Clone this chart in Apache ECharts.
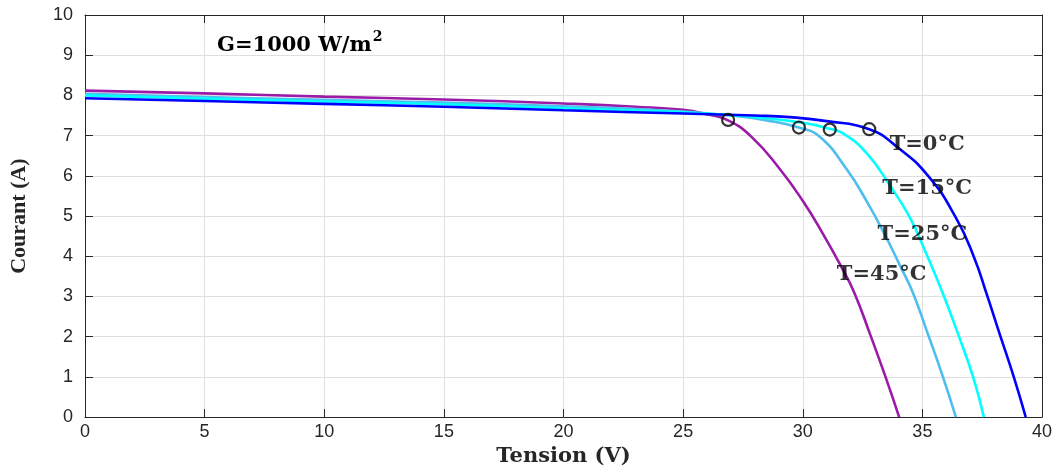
<!DOCTYPE html>
<html>
<head>
<meta charset="utf-8">
<script src="https://cdn.jsdelivr.net/npm/echarts@6/dist/echarts.min.js"></script>
<style>
html,body{margin:0;padding:0;background:#fff;}
#chart{width:1062px;height:472px;}
</style>
</head>
<body>
<div id="chart"></div>
<script>
// ---- data ----
var xTicks = [0, 5, 10, 15, 20, 25, 30, 35, 40];
var yTicks = [0, 1, 2, 3, 4, 5, 6, 7, 8, 9, 10];

var curveNames = ['T=0°C', 'T=15°C', 'T=25°C', 'T=45°C'];
var curveColors = ['#0000ff', '#00ffff', '#4dbeee', '#9b1ba8'];

var v0  = [0, 5, 10, 15, 20, 25, 28, 29.46, 31, 32.78, 33.92, 35.24, 36.4, 37.15, 37.71, 38.24, 38.82, 39.32];
var i0  = [7.93, 7.86, 7.79, 7.72, 7.63, 7.55, 7.5, 7.46, 7.36, 7.16, 6.73, 6.0, 4.96, 3.99, 3.02, 2.05, 1.0, 0];

var v15 = [0, 5, 10, 15, 20, 25, 28, 30, 31.13, 31.7, 32.66, 33.64, 34.48, 35.1, 35.84, 36.5, 37.12, 37.57];
var i15 = [8.0, 7.92, 7.85, 7.78, 7.68, 7.58, 7.46, 7.32, 7.17, 7.05, 6.57, 5.76, 4.96, 4.15, 3.10, 2.05, 1.0, 0];

var v25 = [0, 5, 10, 15, 20, 25, 27, 28.5, 29.84, 30.71, 31.83, 32.68, 33.42, 34.08, 34.6, 35.24, 35.86, 36.4];
var i25 = [8.04, 7.96, 7.89, 7.82, 7.73, 7.6, 7.5, 7.38, 7.2, 6.97, 6.17, 5.36, 4.55, 3.75, 3.10, 2.05, 1.0, 0];

var v45 = [0, 5, 10, 15, 20, 23, 25, 26, 26.88, 27.86, 29.04, 30.02, 30.85, 31.6, 32.15, 32.82, 33.46, 34.03];
var i45 = [8.12, 8.05, 7.97, 7.9, 7.8, 7.72, 7.64, 7.53, 7.38, 6.97, 6.17, 5.36, 4.55, 3.75, 3.10, 2.05, 1.0, 0];

// maximum power points (circles)
var mppV = [32.78, 31.13, 29.84, 26.88];
var mppI = [7.16, 7.15, 7.20, 7.39];

// curve labels anchor (data coordinates)
var labelV = [35.2, 35.2, 35.0, 33.3];
var labelI = [6.78, 5.69, 4.53, 3.54];

var xName = 'Tension (V)';
var yName = 'Courant (A)';
var irradiance = 'G=1000 W/m';
var irradianceSup = '2';

// ---- build ----
function zip(a, b) { return a.map(function (x, k) { return [x, b[k]]; }); }
var curves = [zip(v0, i0), zip(v15, i15), zip(v25, i25), zip(v45, i45)];

var tickFont = { fontFamily: 'Liberation Sans', fontSize: 18, color: '#262626' };
var axisLineStyle = { color: '#262626', width: 1 };

var series = [];
// draw order: hottest first so the blue is on top
[3, 2, 1, 0].forEach(function (k) {
  series.push({
    type: 'line',
    name: curveNames[k],
    data: curves[k],
    showSymbol: false,
    smooth: 0.5,
    lineStyle: { color: curveColors[k], width: 2.6 },
    z: 3,
    animation: false
  });
});
series.push({
  type: 'scatter',
  data: zip(mppV, mppI),
  symbol: 'circle',
  symbolSize: 12,
  itemStyle: { color: 'rgba(0,0,0,0)', borderColor: '#000', borderWidth: 2.2 },
  z: 5,
  animation: false
});
series.push({
  type: 'scatter',
  data: labelV.map(function (x, k) { return [x, labelI[k], curveNames[k]]; }),
  symbolSize: 0,
  label: {
    show: true,
    position: 'inside',
    formatter: function (p) { return '{t|' + p.data[2] + '}'; },
    rich: {
      t: { fontFamily: 'DejaVu Serif', fontWeight: 'bold', fontSize: 21, color: '#000', textBorderWidth: 0 }
    }
  },
  z: 6,
  animation: false,
  silent: true
});

var option = {
  backgroundColor: '#fff',
  animation: false,
  title: {
    text: '{a|' + irradiance + '}{b|' + irradianceSup + '}',
    left: 212,
    top: 25,
    textStyle: {
      rich: {
        a: { fontFamily: 'DejaVu Serif', fontWeight: 'bold', fontSize: 21, color: '#000', verticalAlign: 'bottom', lineHeight: 26 },
        b: { fontFamily: 'DejaVu Serif', fontWeight: 'bold', fontSize: 14, color: '#000', verticalAlign: 'top', lineHeight: 26, padding: [0, 0, 0, 1] }
      }
    }
  },
  grid: { left: 85, right: 20, top: 15, bottom: 44, containLabel: false },
  xAxis: [{
    type: 'value', min: 0, max: 40, interval: 5,
    name: xName, nameLocation: 'middle', nameGap: 27,
    nameTextStyle: { fontFamily: 'DejaVu Serif', fontWeight: 'bold', fontSize: 21, color: '#262626' },
    axisLine: { show: true, onZero: false, lineStyle: axisLineStyle },
    axisTick: { show: true, inside: true, length: 8, lineStyle: axisLineStyle },
    axisLabel: Object.assign({ margin: 6, formatter: function (v) { return xTicks.indexOf(v) >= 0 ? String(v) : ''; } }, tickFont),
    splitLine: { show: true, lineStyle: { color: '#dfdfdf', width: 1 } }
  }, {
    type: 'value', min: 0, max: 40, interval: 5, position: 'top',
    axisLine: { show: true, onZero: false, lineStyle: axisLineStyle },
    axisTick: { show: true, inside: true, length: 8, lineStyle: axisLineStyle },
    axisLabel: { show: false },
    splitLine: { show: false }
  }],
  yAxis: [{
    type: 'value', min: 0, max: 10, interval: 1,
    name: yName, nameLocation: 'middle', nameGap: 55, nameRotate: 90,
    nameTextStyle: { fontFamily: 'Liberation Serif', fontWeight: 'bold', fontSize: 22, color: '#262626' },
    axisLine: { show: true, onZero: false, lineStyle: axisLineStyle },
    axisTick: { show: true, inside: true, length: 8, lineStyle: axisLineStyle },
    axisLabel: Object.assign({ margin: 12, formatter: function (v) { return yTicks.indexOf(v) >= 0 ? String(v) : ''; } }, tickFont),
    splitLine: { show: true, lineStyle: { color: '#dfdfdf', width: 1 } }
  }, {
    type: 'value', min: 0, max: 10, interval: 1, position: 'right',
    axisLine: { show: true, onZero: false, lineStyle: axisLineStyle },
    axisTick: { show: true, inside: true, length: 8, lineStyle: axisLineStyle },
    axisLabel: { show: false },
    splitLine: { show: false }
  }],
  series: series
};

var chart = echarts.init(document.getElementById('chart'), null, { renderer: 'canvas' });
chart.setOption(option);
</script>
</body>
</html>
